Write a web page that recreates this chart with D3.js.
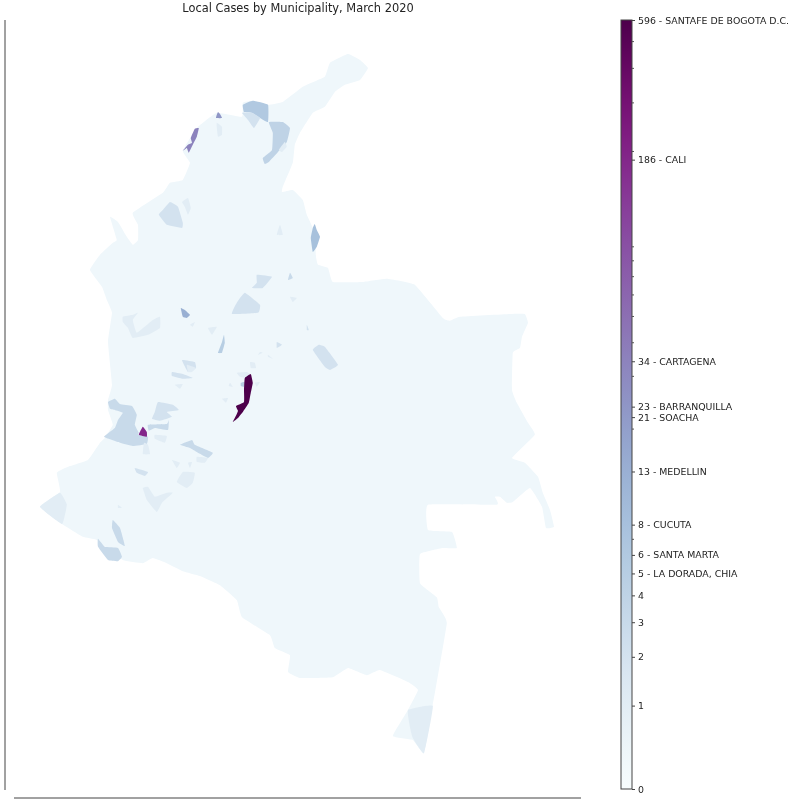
<!DOCTYPE html>
<html lang="en">
<head>
  <meta charset="UTF-8">
  <title>Local Cases by Municipality, March 2020</title>
  <script src="https://d3js.org/d3.v7.min.js"></script>
  <style>
    html, body { margin: 0; padding: 0; background: #fff; }
    svg { display: block; font-family: "DejaVu Sans", sans-serif; filter: blur(0.45px); }
  </style>
</head>
<body>
  <div id="chart"></div>
  <script>
    // Colorbar ticks
    var labelledTicks = [0, 1, 2, 3, 4, 5, 6, 8, 13, 21, 23, 34, 186, 596];
    var tickLabels = ["0", "1", "2", "3", "4", "5 - LA DORADA, CHIA", "6 - SANTA MARTA", "8 - CUCUTA", "13 - MEDELLIN",
      "21 - SOACHA", "23 - BARRANQUILLA", "34 - CARTAGENA", "186 - CALI", "596 - SANTAFE DE BOGOTA D.C."];
    var minorTicks = [7, 19, 30, 40, 50, 60, 70, 80, 90, 200, 300, 400, 500];

    // Country outline, approximate lon/lat
    var countryOutline = [[-71.30,12.65],[-71.00,12.50],[-70.80,12.30],[-71.00,12.00],[-71.38,11.88],[-71.63,11.70],[-71.88,11.33],[-72.18,11.18],
      [-72.50,10.68],[-72.63,10.38],[-72.68,9.93],[-72.93,9.33],[-72.95,9.20],[-72.68,9.25],[-72.43,9.00],[-72.33,8.63],[-72.13,8.18],[-72.10,7.58],
      [-72.05,7.38],[-71.80,7.30],[-71.68,6.95],[-70.93,6.95],[-70.33,7.03],[-69.63,6.88],[-68.93,6.05],[-68.75,5.98],[-68.50,6.08],[-67.25,6.15],
      [-66.88,6.15],[-66.80,5.93],[-66.95,5.58],[-67.00,5.30],[-67.18,5.18],[-67.20,4.25],[-67.08,3.93],[-66.80,3.43],[-66.63,3.13],[-67.20,2.55],
      [-66.88,2.43],[-66.55,2.08],[-66.43,1.68],[-66.25,1.25],[-66.15,0.83],[-66.35,0.80],[-66.45,1.33],[-66.75,1.80],[-67.18,1.45],[-67.33,1.43],
      [-67.50,1.58],[-67.63,1.58],[-67.58,1.38],[-69.30,1.38],[-69.30,0.75],[-68.70,0.70],[-68.58,0.30],[-68.93,0.30],[-69.50,0.15],[-69.50,-0.58],
      [-69.08,-0.93],[-69.03,-1.18],[-68.83,-1.58],[-69.18,-3.63],[-69.40,-4.83],[-69.68,-4.50],[-70.18,-4.40],[-69.80,-3.75],[-69.55,-3.25],[-69.80,-3.05],
      [-70.50,-2.75],[-70.83,-2.88],[-71.30,-2.70],[-71.68,-2.93],[-72.50,-2.95],[-72.80,-2.80],[-72.75,-2.38],[-73.13,-2.20],[-73.25,-1.88],[-73.95,-1.43],
      [-74.08,-1.00],[-74.50,-0.63],[-75.00,-0.40],[-75.43,-0.28],[-75.83,-0.08],[-76.18,0.05],[-76.43,-0.08],[-76.93,0.00],[-77.58,0.50],[-77.93,0.58],
      [-78.50,0.93],[-79.00,1.33],[-78.50,1.70],[-78.58,2.18],[-78.30,2.33],[-77.80,2.50],[-77.50,2.93],[-77.38,3.05],[-77.18,3.38],[-77.30,3.75],
      [-77.30,4.00],[-77.20,4.38],[-77.30,5.45],[-77.20,6.18],[-77.33,6.50],[-77.45,6.83],[-77.75,7.25],[-77.50,7.63],[-77.18,7.93],[-77.08,8.00],
      [-77.25,8.58],[-77.05,8.45],[-76.83,8.08],[-76.68,7.88],[-76.55,8.00],[-76.55,8.38],[-76.68,8.68],[-75.93,9.18],[-75.75,9.43],[-75.43,9.50],
      [-75.25,9.93],[-75.43,10.23],[-75.08,10.80],[-74.58,11.18],[-73.95,11.08],[-73.93,11.43],[-73.68,11.48],[-73.30,11.38],[-72.93,11.45],[-72.43,11.83],
      [-71.88,12.08],[-71.75,12.43]];

    // Municipalities that reported cases; estimated counts come from the fill colour
    var municipalityCases = [34, 23, 1, 6, 2, 4, 1, 2, 1, 8, 1, 3, 2, 1, 2, 13, 5, 1, 1, 2, 2, 2, 2, 1, 2, 1, 1, 1, 1, 5,
      1, 1, 1, 1, 1, 3, 186, 2, 3, 1, 1, 3, 1, 1, 1, 2, 1, 1, 1, 3, 3, 1, 1, 596];
    var municipalityShapes = [
      [[-75.03,10.80],[-75.13,10.78],[-75.23,10.55],[-75.20,10.43],[-75.30,10.38],[-75.43,10.23],[-75.33,10.30],[-75.28,10.18],[-75.18,10.38],[-75.08,10.58]],
      [[-74.55,11.20],[-74.58,11.13],[-74.60,11.05],[-74.45,11.05],[-74.50,11.15]],
      [[-74.58,10.93],[-74.45,10.83],[-74.45,10.63],[-74.55,10.58],[-74.58,10.80]],
      [[-73.93,11.38],[-73.68,11.48],[-73.30,11.38],[-73.30,10.95],[-73.50,11.05],[-73.70,11.18],[-73.90,11.20]],
      [[-73.95,11.18],[-73.70,11.18],[-73.50,11.05],[-73.65,10.80],[-73.80,11.00]],
      [[-73.28,10.95],[-72.93,10.95],[-72.75,10.80],[-72.83,10.45],[-73.05,10.20],[-73.28,9.95],[-73.38,9.90],[-73.43,10.05],[-73.20,10.25],[-73.18,10.68]],
      [[-72.88,10.45],[-72.83,10.33],[-72.95,10.20],[-73.03,10.25]],
      [[-75.75,8.95],[-75.55,8.83],[-75.43,8.43],[-75.45,8.30],[-75.83,8.38],[-76.03,8.63],[-75.93,8.75]],
      [[-75.45,8.95],[-75.30,9.05],[-75.23,8.80],[-75.30,8.63],[-75.38,8.83]],
      [[-72.13,8.40],[-72.08,8.25],[-72.00,8.08],[-72.08,7.83],[-72.18,7.70],[-72.23,8.05],[-72.18,8.30]],
      [[-73.00,8.38],[-72.93,8.13],[-73.08,8.13]],
      [[-72.75,7.18],[-72.68,7.05],[-72.80,7.00]],
      [[-73.58,7.13],[-73.20,7.08],[-73.43,6.80],[-73.70,6.80],[-73.58,6.93]],
      [[-72.75,6.58],[-72.58,6.55],[-72.68,6.45]],
      [[-73.88,6.68],[-73.50,6.38],[-73.55,6.18],[-74.20,6.15],[-74.08,6.43]],
      [[-75.48,6.30],[-75.38,6.25],[-75.25,6.13],[-75.33,6.05],[-75.43,6.08]],
      [[-74.40,5.63],[-74.38,5.43],[-74.45,5.18],[-74.55,5.18],[-74.45,5.45]],
      [[-76.93,6.08],[-76.68,6.13],[-76.55,6.18],[-76.68,6.00],[-76.58,5.68],[-76.18,6.00],[-76.00,6.08],[-76.00,5.80],[-76.30,5.63],[-76.68,5.55],[-76.80,5.80],[-76.93,5.95]],
      [[-74.80,5.80],[-74.58,5.83],[-74.70,5.63]],
      [[-73.08,5.45],[-72.95,5.38],[-73.08,5.30]],
      [[-72.33,5.88],[-72.28,5.75],[-72.33,5.75]],
      [[-72.03,5.38],[-71.88,5.33],[-71.55,4.88],[-71.75,4.75],[-71.88,4.83],[-72.18,5.25]],
      [[-75.45,5.00],[-75.13,4.95],[-75.10,4.80],[-75.30,4.70]],
      [[-75.33,4.88],[-75.10,4.80],[-75.20,4.70],[-75.30,4.70]],
      [[-75.70,4.70],[-75.43,4.65],[-75.18,4.55],[-75.43,4.53],[-75.70,4.60]],
      [[-75.63,4.38],[-75.43,4.40],[-75.50,4.28]],
      [[-73.75,4.95],[-73.63,4.93],[-73.60,4.80],[-73.73,4.80]],
      [[-74.08,4.68],[-73.83,4.70],[-73.75,4.65],[-73.83,4.55],[-74.00,4.58]],
      [[-73.63,4.43],[-73.50,4.45],[-73.58,4.33]],
      [[-73.98,4.43],[-73.88,4.45],[-73.90,4.33],[-73.98,4.35]],
      [[-74.25,4.43],[-74.18,4.33],[-74.28,4.35]],
      [[-74.45,4.03],[-74.30,4.05],[-74.35,3.93]],
      [[-73.50,5.20],[-73.43,5.18],[-73.55,5.13]],
      [[-73.30,5.13],[-73.18,5.03],[-73.30,5.08]],
      [[-75.25,5.88],[-75.13,5.95],[-75.18,5.83]],
      [[-77.30,3.95],[-77.13,4.03],[-77.00,3.90],[-76.70,3.85],[-76.58,3.63],[-76.63,3.38],[-76.53,3.18],[-76.55,3.13],[-76.30,3.08],[-76.33,2.90],[-76.68,2.85],[-77.00,2.93],[-77.40,3.08],[-77.13,3.30],[-77.05,3.50],[-76.93,3.68],[-77.13,3.75],[-77.25,3.78]],
      [[-76.43,3.33],[-76.33,3.20],[-76.33,3.08],[-76.53,3.13]],
      [[-76.05,3.95],[-75.68,3.88],[-75.53,3.75],[-75.83,3.70],[-75.70,3.58],[-76.00,3.48],[-76.20,3.53],[-76.13,3.70]],
      [[-76.30,3.38],[-75.83,3.40],[-75.78,3.50],[-75.80,3.25],[-76.13,3.30],[-76.28,3.23]],
      [[-76.13,3.13],[-75.83,3.10],[-75.88,2.93],[-76.13,3.03]],
      [[-76.40,2.93],[-76.30,2.88],[-76.25,2.65],[-76.43,2.65]],
      [[-75.50,2.88],[-75.20,3.00],[-75.13,2.88],[-74.68,2.68],[-74.80,2.55],[-75.08,2.70],[-75.25,2.80]],
      [[-75.08,2.58],[-74.80,2.55],[-74.88,2.43],[-75.08,2.45]],
      [[-75.70,2.50],[-75.50,2.43],[-75.58,2.30]],
      [[-75.30,2.43],[-75.20,2.45],[-75.25,2.30]],
      [[-76.63,2.30],[-76.30,2.20],[-76.38,2.10],[-76.58,2.18]],
      [[-75.43,2.20],[-75.13,2.18],[-75.18,1.93],[-75.33,1.80],[-75.58,1.95]],
      [[-76.43,1.80],[-76.30,1.83],[-76.13,1.58],[-75.83,1.68],[-75.68,1.68],[-75.95,1.43],[-76.08,1.20],[-76.33,1.50]],
      [[-79.00,1.33],[-78.50,1.68],[-78.33,1.38],[-78.45,0.90]],
      [[-77.18,1.00],[-77.00,0.80],[-76.88,0.35],[-77.05,0.45],[-77.20,0.80]],
      [[-77.55,0.53],[-77.38,0.33],[-77.05,0.30],[-76.95,0.08],[-77.05,-0.03],[-77.30,0.00],[-77.55,0.33]],
      [[-77.05,1.38],[-76.95,1.30],[-77.05,1.30]],
      [[-69.80,-3.75],[-69.18,-3.65],[-69.40,-4.83],[-69.68,-4.45],[-69.75,-4.18]],
      [[-73.73,4.65],[-73.68,4.43],[-73.73,4.18],[-73.78,3.93],[-73.93,3.70],[-74.05,3.55],[-74.18,3.45],[-74.08,3.65],[-74.05,3.73],[-74.10,3.85],[-73.90,3.95],[-73.90,4.25],[-73.88,4.55]]
    ];

    var width = 793, height = 803;
    var maxCases = 596;

    var svg = d3.select("#chart").append("svg")
      .attr("width", width)
      .attr("height", height);

    // Map position scales
    var x = d3.scaleLinear().domain([-80, -60]).range([0, 800]);
    var y = d3.scaleLinear().domain([14, -6]).range([0, 800]);

    // Symlog colour scale, same as the colorbar
    var color = d3.scaleSequentialSymlog(d3.interpolateBuPu).domain([0, maxCases]).constant(1);

    var shapePath = d3.line()
      .x(d => x(d[0]))
      .y(d => y(d[1]))
      .curve(d3.curveCardinalClosed.tension(0.7));

    svg.append("text")
      .attr("x", 298)
      .attr("y", 12)
      .attr("text-anchor", "middle")
      .attr("font-size", 11.4)
      .attr("fill", "#222")
      .text("Local Cases by Municipality, March 2020");

    // Only the left and bottom spines are left on the map axes
    svg.append("line").attr("x1", 5).attr("x2", 5).attr("y1", 20).attr("y2", 790)
      .attr("stroke", "#444").attr("stroke-width", 1);
    svg.append("line").attr("x1", 14).attr("x2", 581).attr("y1", 798).attr("y2", 798)
      .attr("stroke", "#444").attr("stroke-width", 1);

    svg.append("path")
      .attr("d", shapePath(countryOutline))
      .attr("fill", "#eff7fb");

    svg.append("g").selectAll("path")
      .data(municipalityShapes)
      .join("path")
      .attr("d", shapePath)
      .attr("fill", (d, i) => color(municipalityCases[i]));

    // Colorbar
    var barX = 621, barW = 11, barTop = 20, barBottom = 789;
    var barScale = d3.scaleSymlog().constant(1).domain([0, maxCases]).range([barBottom, barTop]);

    var gradient = svg.append("defs").append("linearGradient")
      .attr("id", "bar-gradient")
      .attr("x1", 0).attr("x2", 0).attr("y1", 1).attr("y2", 0);
    gradient.selectAll("stop")
      .data(d3.range(0, 1.001, 0.05))
      .join("stop")
      .attr("offset", d => d)
      .attr("stop-color", d => d3.interpolateBuPu(d));

    svg.append("rect")
      .attr("x", barX).attr("y", barTop)
      .attr("width", barW).attr("height", barBottom - barTop)
      .attr("fill", "url(#bar-gradient)")
      .attr("stroke", "#444");

    var labelAxis = d3.axisRight(barScale)
      .tickValues(labelledTicks)
      .tickFormat((d, i) => tickLabels[i])
      .tickSize(3)
      .tickPadding(3);

    var barAxis = svg.append("g")
      .attr("transform", `translate(${barX + barW},0)`)
      .call(labelAxis);
    barAxis.select(".domain").remove();
    barAxis.selectAll("text")
      .attr("font-family", "DejaVu Sans")
      .attr("font-size", 9.4)
      .attr("fill", "#222");
    barAxis.selectAll("line").attr("stroke", "#444");

    var minorAxis = svg.append("g")
      .attr("transform", `translate(${barX + barW},0)`)
      .call(d3.axisRight(barScale).tickValues(minorTicks).tickSize(2).tickFormat(""));
    minorAxis.select(".domain").remove();
    minorAxis.selectAll("line").attr("stroke", "#555");
  </script>
</body>
</html>
